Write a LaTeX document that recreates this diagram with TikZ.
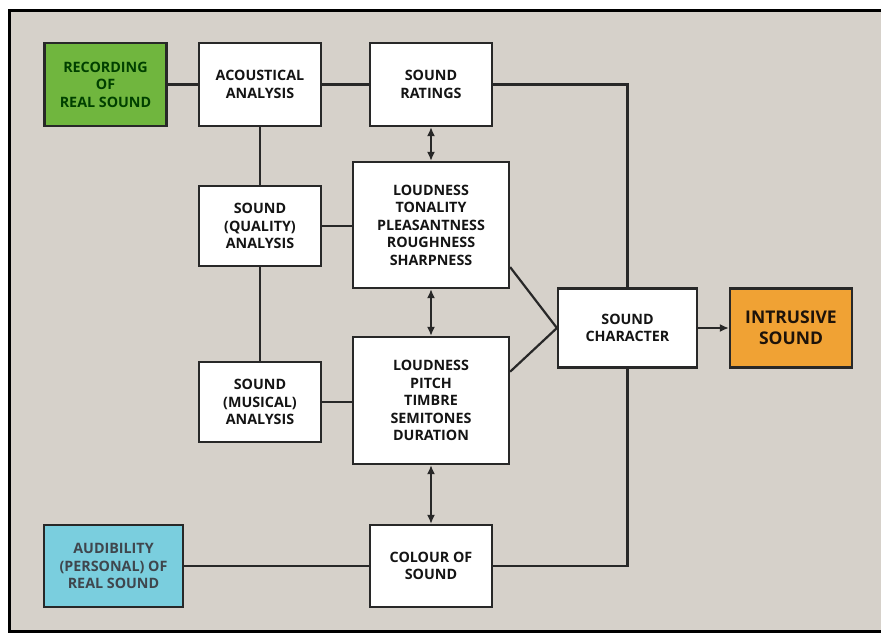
\documentclass[tikz,border=0pt]{standalone}
\usepackage{fontspec}
\setmainfont{Open Sans}
\usetikzlibrary{arrows.meta}
\definecolor{bggrey}{RGB}{214,209,202}
\definecolor{recgreen}{RGB}{112,182,62}
\definecolor{audblue}{RGB}{122,206,222}
\definecolor{intorange}{RGB}{240,162,52}
\definecolor{boxline}{RGB}{40,40,40}
\tikzset{
  blk/.style={draw=boxline, line width=2.2pt, fill=white, inner sep=0pt,
    align=center, font=\fontsize{14.3}{17.5}\selectfont\bfseries, text=black!92},
  link/.style={draw=boxline, line width=2.2pt},
  both/.style={link, {Latex[length=9pt,width=8pt]}-{Latex[length=9pt,width=8pt]}},
}
\begin{document}
\begin{tikzpicture}[x=1pt,y=-1pt]
\useasboundingbox (0,0) rectangle (882,633);
\fill[bggrey] (9,10) rectangle (881,631);
\draw[line width=3pt] (881,10) -- (9,10) -- (9,631) -- (881,631);
\path node[blk, fill=recgreen, text=black!75!green, minimum width=122pt, minimum height=83pt] (rec) at (105.5,84.5) {RECORDING\\OF\\REAL SOUND}
node[blk, minimum width=122pt, minimum height=83pt] (aco) at (260,84.5) {ACOUSTICAL\\ANALYSIS}
node[blk, minimum width=122pt, minimum height=83pt] (rat) at (431,84.5) {SOUND\\RATINGS}
node[blk, minimum width=122pt, minimum height=80pt] (qua) at (260,226) {SOUND\\(QUALITY)\\ANALYSIS}
node[blk, minimum width=156pt, minimum height=126pt] (lt) at (431,225) {LOUDNESS\\TONALITY\\PLEASANTNESS\\ROUGHNESS\\SHARPNESS}
node[blk, minimum width=122pt, minimum height=80pt] (mus) at (260,402) {SOUND\\(MUSICAL)\\ANALYSIS}
node[blk, minimum width=156pt, minimum height=127pt] (lp) at (431,400.5) {LOUDNESS\\PITCH\\TIMBRE\\SEMITONES\\DURATION}
node[blk, minimum width=122pt, minimum height=82pt] (col) at (431,566) {COLOUR OF\\SOUND}
node[blk, fill=audblue, text=black!80!cyan, minimum width=139pt, minimum height=82pt] (aud) at (113.5,566) {AUDIBILITY\\(PERSONAL) OF\\REAL SOUND}
node[blk, minimum width=139pt, minimum height=79pt] (chr) at (627.5,328) {SOUND\\CHARACTER}
node[blk, fill=intorange, text=black!85!brown, font=\fontsize{17.5}{21}\selectfont\bfseries, minimum width=122pt, minimum height=79pt] (int) at (791,328) {INTRUSIVE\\SOUND}
;
\draw[link] (rec) -- (aco);
\draw[link] (aco) -- (rat);
\draw[link] (rat.east) -| (chr.north);
\draw[link] (aco) -- (qua);
\draw[link] (qua) -- (mus);
\draw[link] (qua.east) -- (qua.east -| lt.west);
\draw[link] (mus.east) -- (mus.east -| lp.west);
\draw[both] (rat) -- (lt);
\draw[both] (lt) -- (lp);
\draw[both] (lp) -- (col);
\draw[link] (lt.-28) -- (chr.west);
\draw[link] (lp.20) -- (chr.west);
\draw[link, -{Latex[length=9pt,width=8pt]}] (chr) -- (int);
\draw[link] (col.east) -| (chr.south);
\draw[link] (aud) -- (col);
\end{tikzpicture}
\end{document}
